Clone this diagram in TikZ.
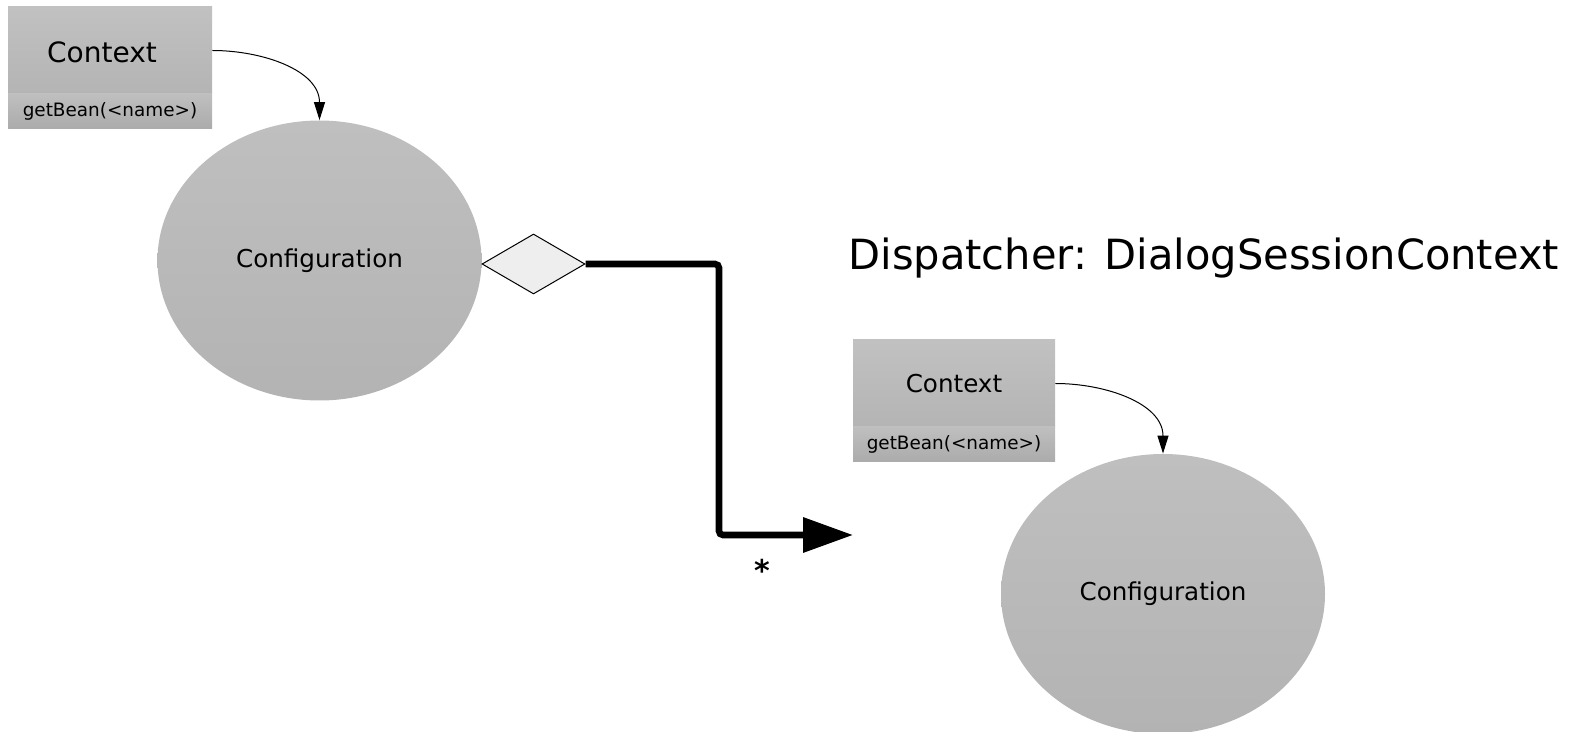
\documentclass[tikz,border=0pt]{standalone}
\usepackage{fontspec}
\setmainfont{DejaVu Sans}
\usetikzlibrary{shapes.geometric,arrows.meta}

\definecolor{boxTop}{HTML}{C1C1C1}
\definecolor{boxBot}{HTML}{B4B4B4}
\definecolor{opTop}{HTML}{BFBFBF}
\definecolor{opBot}{HTML}{ABABAB}
\definecolor{ellTop}{HTML}{BFBFBF}
\definecolor{ellBot}{HTML}{B3B3B3}
\definecolor{aggFill}{HTML}{EEEEEE}

\begin{document}
\begin{tikzpicture}[
  x=0.5pt, y=-0.5pt,
  classbox/.style={rectangle, inner sep=0pt, minimum height=43.5pt,
    top color=boxTop, bottom color=boxBot},
  opbox/.style={rectangle, inner sep=0pt, minimum height=17.5pt,
    top color=opTop, bottom color=opBot,
    font=\fontsize{9.2pt}{11pt}\selectfont},
  beanshape/.style={ellipse, inner sep=0pt, minimum width=162pt, minimum height=140pt,
    top color=ellTop, bottom color=ellBot,
    font=\fontsize{12.3pt}{14pt}\selectfont},
  lbl/.style={inner sep=0pt},
  calls/.style={-{Triangle[length=9pt,width=5.5pt]}, line width=0.5pt},
  aggregate/.style={diamond, draw, line width=0.5pt, fill=aggFill, inner sep=0pt,
    minimum width=51.5pt, minimum height=30pt},
  compose/.style={line width=3.3pt, rounded corners=2pt,
    -{Triangle[length=25pt,width=17pt]}}
]
\useasboundingbox (0,0) rectangle (1576,732);

% left context with its configuration bean
\node[classbox, minimum width=102pt] (ctx1) at (110,50.5) {};
\node[opbox, minimum width=102pt] (op1) at (110,111.5) {getBean(<name>)};
\node[lbl, font=\fontsize{14pt}{16pt}\selectfont] (ctx1lbl) at (102,52) {Context};
\node[beanshape] (cfg1) at (319.5,260.5) {Configuration};
\draw[calls] (ctx1.east) to[out=0,in=90] (cfg1.north);

% aggregation towards the dispatcher
\node[aggregate] (agg) at (533.5,264) {};
\coordinate (elbow) at (719,535);
\coordinate (tgt) at (853,535);
\draw[compose] (agg.east) -| (elbow) -- (tgt);
\node[lbl, font=\bfseries\fontsize{15pt}{17pt}\selectfont] (mult) at (762,570) {*};

% dispatcher: dialog session context
\node[lbl, anchor=base west, font=\fontsize{20.8pt}{24pt}\selectfont] (title) at (848,270)
  {Dispatcher: DialogSessionContext};
\node[classbox, minimum width=101pt] (ctx2) at (954,383.5) {};
\node[opbox, minimum width=101pt] (op2) at (954,444.5) {getBean(<name>)};
\node[lbl, font=\fontsize{12.3pt}{14pt}\selectfont] (ctx2lbl) at (954,384) {Context};
\node[beanshape] (cfg2) at (1163,594) {Configuration};
\draw[calls] (ctx2.east) to[out=0,in=90] (cfg2.north);
\end{tikzpicture}
\end{document}
